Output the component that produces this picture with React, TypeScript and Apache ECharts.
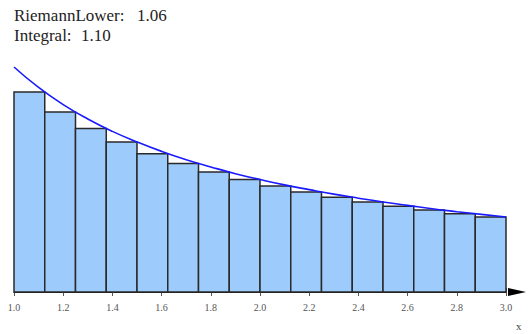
import React, { useEffect, useRef } from "react";
import * as echarts from "echarts";

// Bars of the lower Riemann sum (left edge, right edge, height)
const barLeft = [1.0, 1.125, 1.25, 1.375, 1.5, 1.625, 1.75, 1.875, 2.0, 2.125, 2.25, 2.375, 2.5, 2.625, 2.75, 2.875];
const barRight = [1.125, 1.25, 1.375, 1.5, 1.625, 1.75, 1.875, 2.0, 2.125, 2.25, 2.375, 2.5, 2.625, 2.75, 2.875, 3.0];
const barHeight = [0.889, 0.8, 0.727, 0.667, 0.615, 0.571, 0.533, 0.5, 0.471, 0.444, 0.421, 0.4, 0.381, 0.364, 0.348, 0.333];

// Curve points
const curveX = [1.0, 1.1, 1.2, 1.3, 1.4, 1.5, 1.6, 1.7, 1.8, 1.9, 2.0, 2.1, 2.2, 2.3, 2.4, 2.5, 2.6, 2.7, 2.8, 2.9, 3.0];
const curveY = [1.0, 0.909, 0.833, 0.769, 0.714, 0.667, 0.625, 0.588, 0.556, 0.526, 0.5, 0.476, 0.455, 0.435, 0.417, 0.4, 0.385, 0.37, 0.357, 0.345, 0.333];

const infoLabels = ["RiemannLower:", "Integral:"];
const infoValues = ["1.06", "1.10"];

const SERIF = "Liberation Serif";

export default function App() {
  const ref = useRef<HTMLDivElement>(null);
  useEffect(() => {
    if (!ref.current) return;
    const chart = echarts.init(ref.current, undefined, { renderer: "svg" });
    const barData = barLeft.map((l, i) => [l, barRight[i], barHeight[i]]);
    const curveData = curveX.map((x, i) => [x, curveY[i]]);
    const axisLabelStyle = { fontFamily: SERIF, fontSize: 10, color: "#555" };
    const infoStyle = { fontFamily: SERIF, fontSize: 17, fill: "#222", verticalAlign: "middle" };
    chart.setOption({
      animation: false,
      grid: { left: 14, right: 25, top: 67, bottom: 42, containLabel: false },
      xAxis: [
        {
          type: "value",
          min: 1,
          max: 3,
          interval: 0.2,
          position: "bottom",
          axisLine: { show: true, onZero: false, lineStyle: { color: "#111", width: 1.2 } },
          axisTick: { show: true, inside: false, length: 4, lineStyle: { color: "#555" } },
          axisLabel: { ...axisLabelStyle, margin: 10, formatter: (v: number) => v.toFixed(1) },
          splitLine: { show: false },
        },
        {
          type: "value",
          min: 1,
          max: 3,
          interval: 0.2,
          position: "bottom",
          axisLine: { show: false, onZero: false },
          axisTick: { show: true, inside: true, length: 4, lineStyle: { color: "#555" } },
          minorTick: { show: true, splitNumber: 2, length: 3, lineStyle: { color: "#555" } },
          axisLabel: { show: false },
          splitLine: { show: false },
        },
      ],
      yAxis: {
        type: "value",
        min: 0,
        max: 1,
        show: false,
        splitLine: { show: false },
      },
      series: [
        {
          type: "custom",
          xAxisIndex: 0,
          data: barData,
          z: 2,
          renderItem: (params: any, api: any) => {
            const p0 = api.coord([api.value(0), api.value(2)]);
            const p1 = api.coord([api.value(1), 0]);
            return {
              type: "rect",
              shape: { x: p0[0], y: p0[1], width: p1[0] - p0[0], height: p1[1] - p0[1] },
              style: { fill: "#9dcbfb", stroke: "#2a2a2a", lineWidth: 1.5 },
            };
          },
        },
        {
          type: "line",
          xAxisIndex: 0,
          data: curveData,
          smooth: true,
          showSymbol: false,
          z: 5,
          lineStyle: { color: "#1a1aff", width: 1.6 },
        },
      ],
      graphic: [
        {
          type: "polygon",
          z: 10,
          shape: { points: [[508, 288], [526, 292], [508, 296]] },
          style: { fill: "#000" },
        },
        {
          type: "text",
          x: 516,
          y: 320,
          style: { text: "x", fontFamily: SERIF, fontSize: 11, fill: "#444" },
        },
        { type: "text", x: 14, y: 15, style: { text: infoLabels[0], ...infoStyle } },
        { type: "text", x: 137, y: 15, style: { text: infoValues[0], ...infoStyle } },
        { type: "text", x: 14, y: 35, style: { text: infoLabels[1], ...infoStyle } },
        { type: "text", x: 81, y: 35, style: { text: infoValues[1], ...infoStyle } },
      ],
    });
    return () => chart.dispose();
  }, []);
  return <div ref={ref} style={{ width: 531, height: 334, position: "absolute", left: 0, top: 0 }} />;
}
